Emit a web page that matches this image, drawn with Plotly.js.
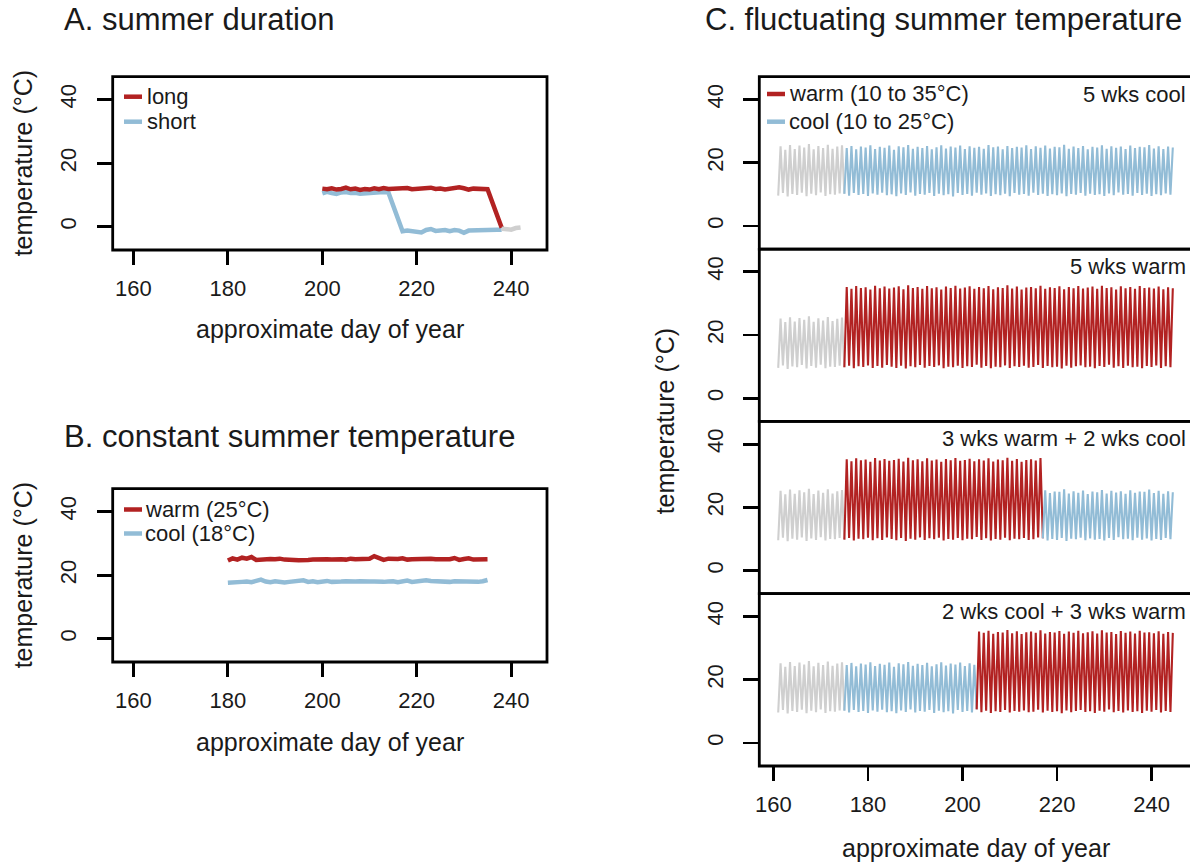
<!DOCTYPE html>
<html>
<head>
<meta charset="utf-8">
<script src="https://cdn.plot.ly/plotly-3.0.1.min.js"></script>
<style>
  html, body { margin: 0; padding: 0; background: #fff; overflow: hidden; }
  #chart { width: 1196px; height: 864px; }
</style>
</head>
<body>
<div id="chart"></div>
<script>
// Colours
const RED = '#b22222';
const BLUE = '#92bcd6';
const GREY = '#cfcfcf';
const INK = '#1a1a1a';
const FONT = 'Liberation Sans, Arial, Helvetica, sans-serif';

// ---- Panel A: summer duration ----
const longDays = [200, 201, 202, 203, 204, 205, 206, 207, 208, 209, 210, 211, 212, 213, 214, 215, 216, 217,
    218, 219, 220, 221, 222, 223, 224, 225, 226, 227, 228, 229, 230, 231, 232, 233, 234, 235, 238];
const longTemp = [12.0, 11.8, 12.1, 11.7, 11.9, 12.3, 11.8, 12.0, 11.6, 11.9, 11.7, 12.1, 11.8, 12.2, 11.9, 12.0, 11.8, 12.1,
    12.2, 11.8, 12.0, 11.9, 12.1, 12.3, 11.9, 12.0, 11.7, 11.9, 12.0, 12.4, 12.1, 11.7, 12.0, 11.9, 12.0, 11.8, -0.3];
const shortDays = [200, 201, 202, 203, 204, 205, 206, 207, 208, 209, 210, 211, 212, 213, 214,
    217, 218, 219, 220, 221, 222, 223, 224, 225, 226, 227, 228, 229, 230, 231, 232, 233, 234, 235, 236, 237, 238];
const shortTemp = [10.5, 11.0, 10.6, 10.3, 10.8, 10.9, 10.6, 10.7, 10.4, 10.5, 10.8, 10.6, 10.7, 10.9, 10.8,
    -1.4, -1.2, -1.3, -1.6, -1.8, -1.0, -0.7, -1.3, -1.2, -1.0, -1.4, -1.0, -1.2, -1.9, -1.2, -1.1, -1.3, -1.0, -1.1, -1.0, -0.9, -0.9];
const autumnDays = [238, 239, 240, 241, 242];
const autumnTemp = [-0.6, -0.7, -0.9, -0.4, -0.2];

// ---- Panel B: constant summer temperature (days 180..235) ----
const constStart = 180;
const warmConst = [24.6, 25.3, 24.9, 25.5, 25.2, 25.7, 24.8, 25.0, 24.9, 25.1, 25.0, 25.2, 24.9, 25.0, 24.8, 24.7, 24.6, 24.8, 24.9, 25.0,
    24.8, 25.0, 24.9, 25.1, 25.0, 24.9, 25.2, 25.0, 25.1, 25.3, 25.2, 26.0, 25.3, 24.8, 25.2, 25.0, 25.1, 25.3, 24.9, 25.0,
    25.1, 24.9, 25.0, 25.2, 25.0, 24.9, 25.1, 25.0, 25.4, 24.8, 25.1, 25.3, 24.9, 25.0, 25.1, 25.0];
const coolConst = [17.6, 17.8, 17.7, 17.9, 18.0, 17.8, 18.2, 18.6, 18.0, 17.8, 18.1, 17.9, 17.7, 17.9, 18.0, 18.1, 18.4, 17.9, 18.1, 17.8,
    18.0, 18.2, 17.9, 17.8, 18.0, 18.1, 17.9, 18.0, 18.1, 17.9, 18.0, 18.0, 17.8, 17.9, 18.0, 18.1, 17.8, 17.9, 18.3, 17.9,
    18.1, 18.0, 18.4, 18.2, 18.1, 18.0, 18.2, 17.9, 18.1, 18.0, 18.2, 17.9, 18.0, 17.9, 18.1, 18.5];

// ---- Panel C: fluctuating summer temperature (daily max / min) ----
const preStart = 161;   // acclimation, grey
const preMax = [25.2, 24.1, 25.6, 24.3, 25.4, 24.8, 25.9, 24.2, 25.3, 24.6, 25.7, 24.4, 25.1, 25.5];
const preMin = [9.6, 10.4, 9.3, 10.1, 9.8, 10.5, 9.4, 10.2, 9.7, 10.6, 9.5, 10.0, 9.9, 10.3];

const regimeStart = 175; // treatments run day 175..244
const coolMax = [24.6, 25.3, 24.2, 25.1, 24.8, 25.5, 24.3, 25.0, 24.7, 25.4,
    24.1, 25.2, 24.9, 25.6, 24.4, 25.0, 24.6, 25.3, 24.2, 24.9,
    25.5, 24.5, 25.1, 24.8, 25.4, 24.3, 25.2, 24.7, 25.0, 24.4,
    25.6, 24.9, 25.1, 24.2, 25.3, 24.6, 25.0, 24.8, 25.5, 24.3,
    25.2, 24.7, 25.4, 24.5, 25.0, 24.9, 25.7, 24.4, 25.1, 24.6,
    25.3, 24.2, 25.0, 24.8, 25.5, 24.4, 25.2, 24.7, 25.1, 24.3,
    25.4, 24.6, 25.0, 24.9, 25.6, 24.5, 25.2, 24.3, 25.1, 24.8];
const coolMin = [10.2, 9.6, 10.4, 9.8, 10.1, 9.5, 10.3, 9.9, 10.5, 9.7,
    10.0, 9.4, 10.3, 9.8, 10.6, 9.6, 10.1, 9.9, 10.4, 9.5,
    10.2, 9.7, 10.0, 9.3, 10.4, 9.8, 10.1, 9.6, 10.5, 9.9,
    10.3, 9.5, 10.0, 9.7, 10.2, 9.4, 10.4, 9.9, 10.1, 9.6,
    10.5, 9.8, 10.2, 9.5, 10.0, 9.7, 10.3, 9.4, 10.1, 9.9,
    10.4, 9.6, 10.2, 9.8, 10.0, 9.5, 10.3, 9.7, 10.6, 9.9,
    10.1, 9.6, 10.4, 9.8, 10.2, 9.5, 10.0, 9.7, 10.3, 9.9];
const warmMax = [35.2, 34.6, 35.5, 34.9, 35.1, 34.4, 35.6, 34.8, 35.3, 34.7,
    35.0, 35.4, 34.5, 35.7, 34.9, 35.2, 34.6, 35.5, 34.8, 35.1,
    34.4, 35.3, 34.9, 35.6, 34.7, 35.0, 35.4, 34.6, 35.2, 34.8,
    35.5, 34.5, 35.1, 34.9, 35.7, 34.7, 35.3, 34.4, 35.0, 35.2,
    34.8, 35.6, 34.6, 35.1, 34.9, 35.4, 34.5, 35.2, 34.8, 35.5,
    34.7, 35.0, 35.3, 34.6, 35.6, 34.9, 35.1, 34.4, 35.4, 34.8,
    35.2, 34.6, 35.5, 34.9, 35.0, 34.7, 35.3, 34.5, 35.1, 34.8];
const warmMin = [9.8, 10.3, 9.5, 10.1, 9.9, 10.4, 9.6, 10.2, 9.7, 10.5,
    10.0, 9.6, 10.3, 9.4, 10.1, 9.8, 10.5, 9.7, 10.2, 9.9,
    10.4, 9.5, 10.0, 9.8, 10.3, 9.6, 10.1, 9.9, 10.6, 9.7,
    10.2, 9.5, 10.0, 9.8, 10.4, 9.6, 10.1, 9.9, 10.3, 9.7,
    9.9, 10.5, 9.6, 10.2, 9.8, 10.0, 9.4, 10.3, 9.7, 10.1,
    10.4, 9.8, 10.0, 9.5, 10.2, 9.9, 10.6, 9.7, 10.1, 9.6,
    10.3, 9.8, 10.0, 9.5, 10.2, 9.9, 10.4, 9.6, 10.1, 9.8];

// treatment schedule per row: [regime, first day, day after last]
const rowLabels = ['5 wks cool', '5 wks warm', '3 wks warm + 2 wks cool', '2 wks cool + 3 wks warm'];
const rowSchedules = [
    [['cool', 175, 245]],
    [['warm', 175, 245]],
    [['warm', 175, 217], ['cool', 217, 245]],
    [['cool', 175, 203], ['warm', 203, 245]]
];

const xTicks = [160, 180, 200, 220, 240];
const yTicks = [0, 20, 40];

// ---- Geometry (pixels of the 1196x864 page) ----
const W = 1196, H = 864;
const px = v => v / W;
const py = v => 1 - v / H;
const boxA = { l: 112.7, r: 547, t: 76.7, b: 250 };
const boxB = { l: 112.7, r: 547, t: 488.7, b: 662 };
const boxC = { l: 759.3, r: 1193.6, t: 76.7, b: 766 };
const rowH = (boxC.b - boxC.t) / 4;

const regimes = {
    cool: { color: BLUE, max: coolMax, min: coolMin },
    warm: { color: RED, max: warmMax, min: warmMin }
};

function zigzag(firstDay, mins, maxs) {
    const x = [], y = [];
    for (let i = 0; i < mins.length; i++) {
        x.push(firstDay + i);
        y.push(mins[i]);
        x.push(firstDay + i + 0.5);
        y.push(maxs[i]);
    }
    return { x, y };
}

function days(first, n) {
    const out = [];
    for (let i = 0; i < n; i++) out.push(first + i);
    return out;
}

function lineTrace(x, y, color, width, axis) {
    return {
        x, y, type: 'scatter', mode: 'lines', hoverinfo: 'skip', showlegend: false,
        line: { color, width },
        xaxis: 'x' + axis, yaxis: 'y' + axis
    };
}

function rowTraces(row) {
    const axis = row + 3;
    const segs = [{ color: GREY, ...zigzag(preStart, preMin, preMax) }];
    rowSchedules[row].forEach(([kind, start, end]) => {
        const r = regimes[kind];
        const a = start - regimeStart, b = end - regimeStart;
        segs.push({ color: r.color, ...zigzag(start, r.min.slice(a, b), r.max.slice(a, b)) });
    });
    // join each segment to the first point of the next one
    for (let i = 0; i < segs.length - 1; i++) {
        segs[i].x.push(segs[i + 1].x[0]);
        segs[i].y.push(segs[i + 1].y[0]);
    }
    return segs.map(s => lineTrace(s.x, s.y, s.color, 2.1, axis));
}

const traces = [
    lineTrace(shortDays, shortTemp, BLUE, 4.5, ''),
    lineTrace(longDays, longTemp, RED, 4.5, ''),
    lineTrace(autumnDays, autumnTemp, GREY, 4.5, ''),
    lineTrace(days(constStart, warmConst.length), warmConst, RED, 4.5, '2'),
    lineTrace(days(constStart, coolConst.length), coolConst, BLUE, 4.5, '2')
];
for (let r = 0; r < 4; r++) traces.push(...rowTraces(r));

function xAxis(box, range, showTicks, anchor) {
    return {
        domain: [px(box.l), px(box.r)], range, fixedrange: true, anchor,
        showgrid: false, zeroline: false, showline: false,
        tickmode: 'array', tickvals: xTicks,
        ticks: showTicks ? 'outside' : '', ticklen: 14, tickwidth: 2.8, tickcolor: '#000',
        showticklabels: showTicks, ticklabelstandoff: 5,
        tickfont: { family: FONT, size: 22, color: INK }
    };
}

function yAxis(top, bottom, anchor) {
    return {
        domain: [py(bottom), py(top)], range: [-7.3, 47.2], fixedrange: true, anchor,
        showgrid: false, zeroline: false, showline: false,
        tickmode: 'array', tickvals: yTicks,
        ticks: 'outside', ticklen: 15, tickwidth: 2.8, tickcolor: '#000',
        tickangle: -90, ticklabelstandoff: 12,
        tickfont: { family: FONT, size: 22, color: INK }
    };
}

const layout = {
    width: W, height: H,
    margin: { l: 0, r: 0, t: 0, b: 0 },
    paper_bgcolor: '#fff', plot_bgcolor: 'rgba(0,0,0,0)',
    showlegend: false,
    font: { family: FONT, color: INK },
    xaxis: xAxis(boxA, [155.6, 247.6], true, 'y'),
    yaxis: yAxis(boxA.t, boxA.b, 'x'),
    xaxis2: xAxis(boxB, [155.6, 247.6], true, 'y2'),
    yaxis2: yAxis(boxB.t, boxB.b, 'x2'),
    shapes: [],
    annotations: []
};
for (let r = 0; r < 4; r++) {
    const top = boxC.t + r * rowH;
    const n = r + 3;
    layout['xaxis' + n] = xAxis(boxC, [157.0, 248.9], r === 3, 'y' + n);
    layout['yaxis' + n] = yAxis(top, top + rowH, 'x' + n);
}

// frames round each plot
['', '2', '3', '4', '5', '6'].forEach(a => {
    layout.shapes.push({
        type: 'rect', xref: 'x' + a + ' domain', yref: 'y' + a + ' domain',
        x0: 0, x1: 1, y0: 0, y1: 1, line: { color: '#000', width: 2.8 }, layer: 'above'
    });
});

function text(str, x, y, size, opts = {}) {
    layout.annotations.push({
        text: str, xref: 'paper', yref: 'paper', x: px(x), y: py(y),
        showarrow: false, xanchor: opts.anchor || 'left', yanchor: 'middle',
        textangle: opts.angle || 0, font: { family: FONT, size, color: INK }
    });
}

function legendKey(x0, x1, y, color) {
    layout.shapes.push({
        type: 'line', xref: 'paper', yref: 'paper',
        x0: px(x0), x1: px(x1), y0: py(y), y1: py(y),
        line: { color, width: 4.5 }
    });
}

// titles
text('A. summer duration', 62, 20, 31);
text('B. constant summer temperature', 62, 436, 31);
text('C. fluctuating summer temperature', 703, 20, 31);

// axis titles
text('approximate day of year', 330, 329, 25, { anchor: 'center' });
text('approximate day of year', 330, 742, 25, { anchor: 'center' });
text('approximate day of year', 976, 848, 25, { anchor: 'center' });
text('temperature (°C)', 23, (boxA.t + boxA.b) / 2, 25, { anchor: 'center', angle: -90 });
text('temperature (°C)', 23, (boxB.t + boxB.b) / 2, 25, { anchor: 'center', angle: -90 });
text('temperature (°C)', 665, (boxC.t + boxC.b) / 2, 25, { anchor: 'center', angle: -90 });

// legends
legendKey(124, 142, 96.7, RED);   text('long', 145, 96.7, 22);
legendKey(124, 142, 121.7, BLUE); text('short', 145, 121.7, 22);
legendKey(124, 142, 509.5, RED);  text('warm (25°C)', 143, 509.5, 22);
legendKey(124, 142, 533.5, BLUE); text('cool (18°C)', 143, 533.5, 22);
legendKey(767, 785, 94, RED);     text('warm (10 to 35°C)', 787, 94, 22);
legendKey(767, 785, 121.7, BLUE); text('cool (10 to 25°C)', 787, 121.7, 22);

// treatment labels in panel C
rowLabels.forEach((lab, r) => {
    text(lab, 1188, boxC.t + r * rowH + 17.5, 22, { anchor: 'right' });
});

Plotly.newPlot('chart', traces, layout, { displayModeBar: false, staticPlot: true });
</script>
</body>
</html>
